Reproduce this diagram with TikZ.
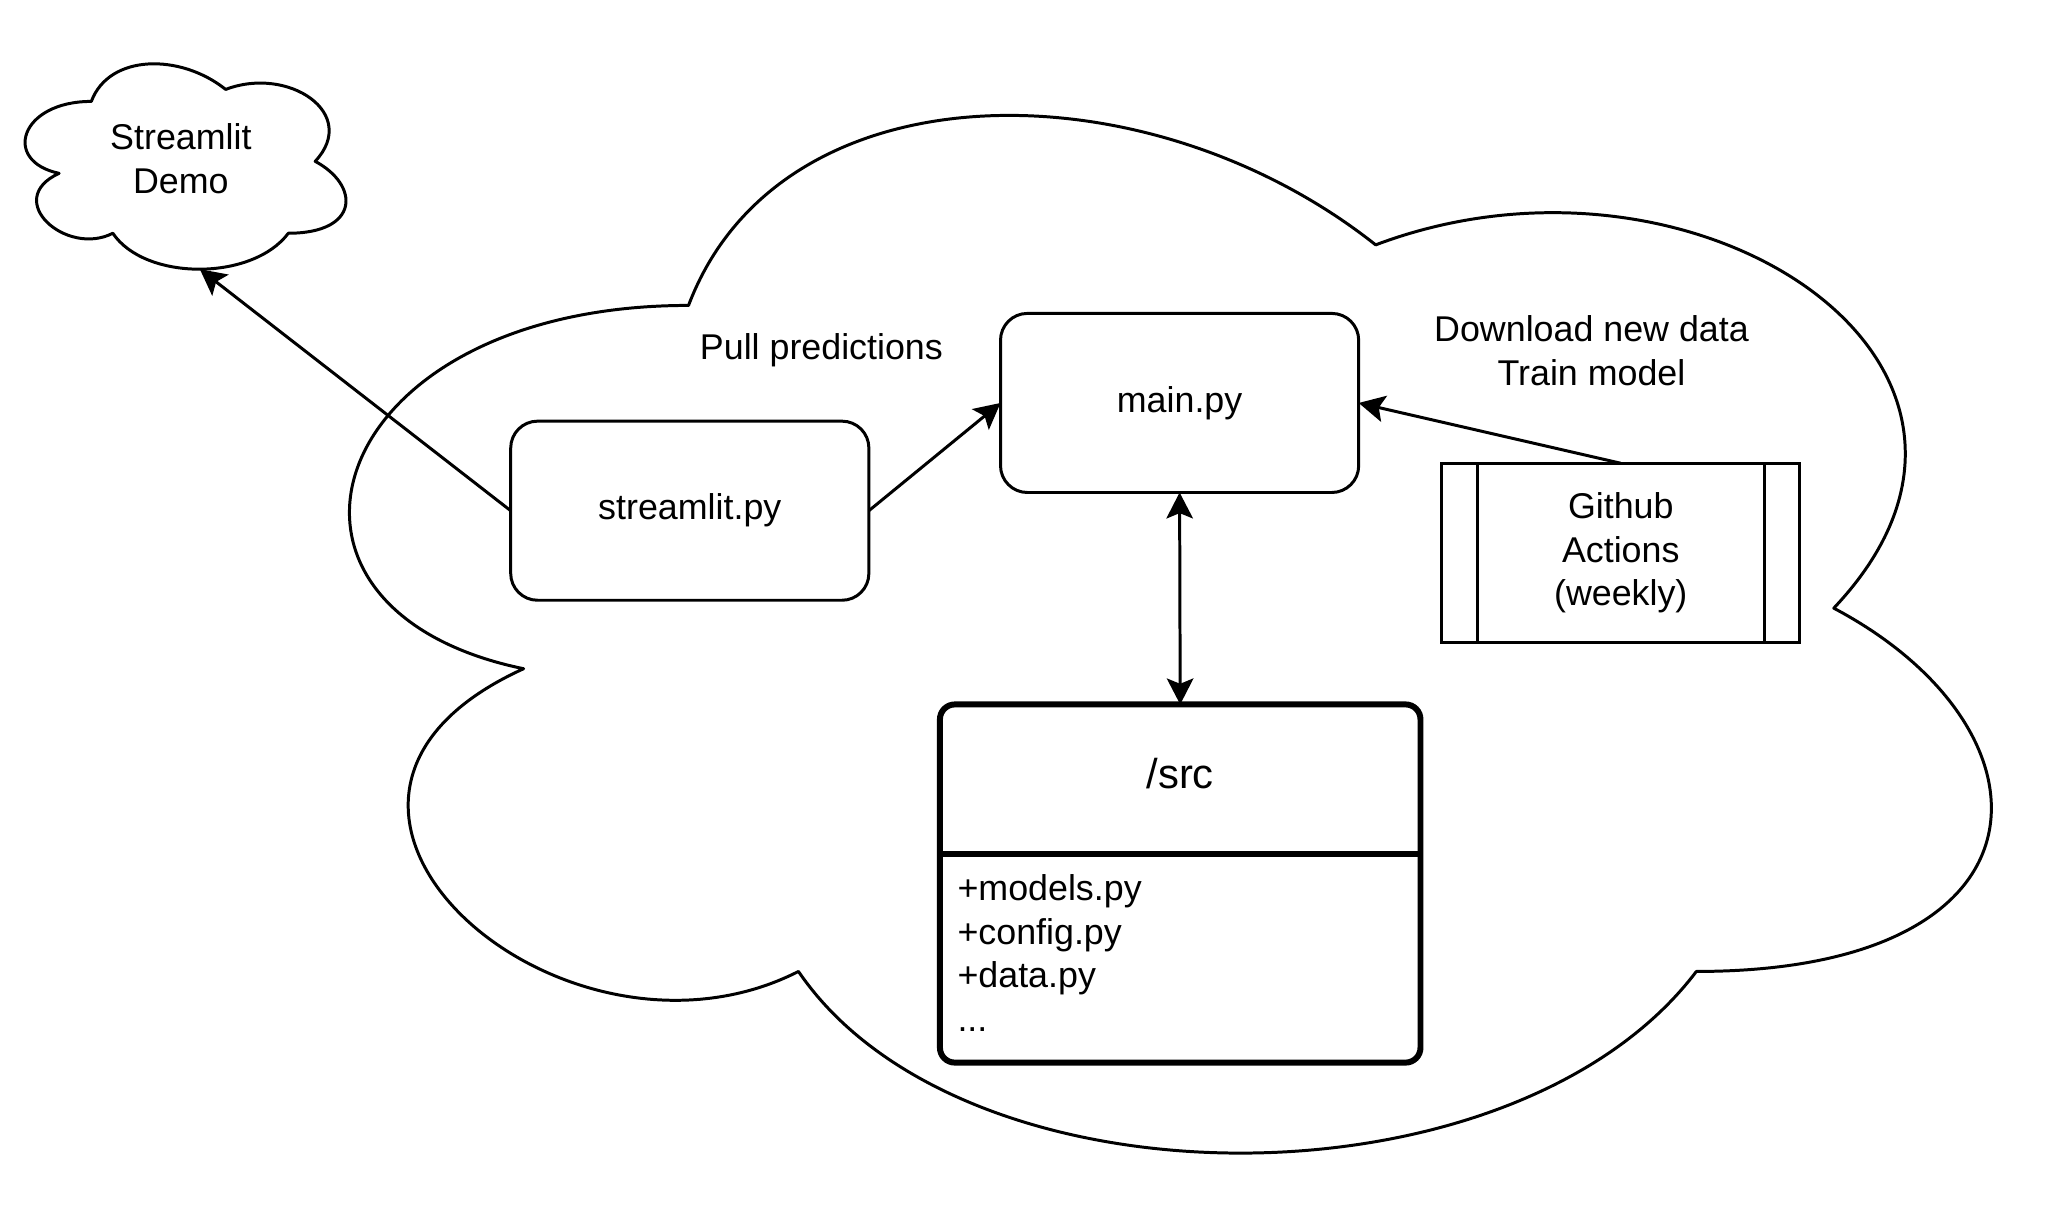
\documentclass[tikz,border=0pt]{standalone}
\usepackage{fontspec}
\setmainfont{Liberation Sans}
\usetikzlibrary{arrows.meta}
\begin{document}
\begin{tikzpicture}[x=1pt,y=-1pt,
  box/.style={draw, line width=1pt, rounded corners=9pt, minimum width=120pt, minimum height=60pt,
    inner sep=0pt, outer sep=0pt, align=center, font=\fontsize{12}{14.7}\selectfont},
  lbl/.style={align=center, inner sep=0pt, font=\fontsize{12}{14.8}\selectfont},
  arr/.style={line width=1pt, -{Stealth[length=8.7pt,width=8.9pt,inset=1.8pt]}},
  biarr/.style={line width=1pt, {Stealth[length=8.7pt,width=8.9pt,inset=1.8pt]}-{Stealth[length=8.7pt,width=8.9pt,inset=1.8pt]}},
  cloudline/.style={line width=1pt, line join=round}]
\useasboundingbox (0,0) rectangle (691.5,407);
\fill[white] (0,0) rectangle (691.5,407);

% big cloud
\begin{scope}[shift={(77.2pt,-0.9pt)}, x=613.9pt, y=-405.7pt]
\draw[cloudline] (0.25,0.25) .. controls (0.05,0.25) and (0,0.5) .. (0.16,0.55)
  .. controls (0,0.66) and (0.18,0.9) .. (0.31,0.8)
  .. controls (0.4,1) and (0.7,1) .. (0.8,0.8)
  .. controls (1,0.8) and (1,0.6) .. (0.875,0.5)
  .. controls (1,0.3) and (0.8,0.1) .. (0.625,0.2)
  .. controls (0.5,0.05) and (0.3,0.05) .. (0.25,0.25) -- cycle;
\end{scope}

% small cloud
\begin{scope}[shift={(0.6pt,-13.9pt)}, x=120pt, y=-80.3pt]
\draw[cloudline] (0.25,0.25) .. controls (0.05,0.25) and (0,0.5) .. (0.16,0.55)
  .. controls (0,0.66) and (0.18,0.9) .. (0.31,0.8)
  .. controls (0.4,1) and (0.7,1) .. (0.8,0.8)
  .. controls (1,0.8) and (1,0.6) .. (0.875,0.5)
  .. controls (1,0.3) and (0.8,0.1) .. (0.625,0.2)
  .. controls (0.5,0.05) and (0.3,0.05) .. (0.25,0.25) -- cycle;
\coordinate (demotip) at (0.553,0.95);
\end{scope}
\node[lbl, font=\fontsize{12}{15}\selectfont] (demo) at (60.6,53.2) {Streamlit\\Demo};

% boxes
\node[box] (main) at (395.2,135) {main.py};
\node[box] (st) at (231.1,171.1) {streamlit.py};
\node[box, rounded corners=0pt] (gh) at (543,185.2) {Github\\Actions\\(weekly)};
\draw[line width=1pt] ([xshift=12pt]gh.north west) -- ([xshift=12pt]gh.south west);
\draw[line width=1pt] ([xshift=-12pt]gh.north east) -- ([xshift=-12pt]gh.south east);

\node[draw, line width=2pt, rounded corners=5pt, minimum width=161pt, minimum height=120pt,
  inner sep=0pt, outer sep=0pt] (src) at (395.4,296) {};
\draw[line width=2pt] ([yshift=-50pt]src.north west) -- ([yshift=-50pt]src.north east);
\node[lbl, font=\fontsize{14}{17}\selectfont] (srct) at ([yshift=-23pt]src.north) {/src};
\node[lbl, align=left, anchor=base west, font=\fontsize{12}{14.6}\selectfont] (srcb)
  at ([xshift=5.7pt,yshift=-109.5pt]src.north west) {+models.py\\+config.py\\+data.py\\...};

% labels
\node[lbl] (pull) at (275.2,117.3) {Pull predictions};
\node[lbl] (dl) at (533.2,117.5) {Download new data\\Train model};

% connectors
\draw[arr] (st.west) -- (demotip);
\draw[arr] (st.east) -- (main.west);
\draw[arr] (gh.north) -- (main.east);
\draw[biarr] (main.south) -- (src.north);
\end{tikzpicture}
\end{document}
